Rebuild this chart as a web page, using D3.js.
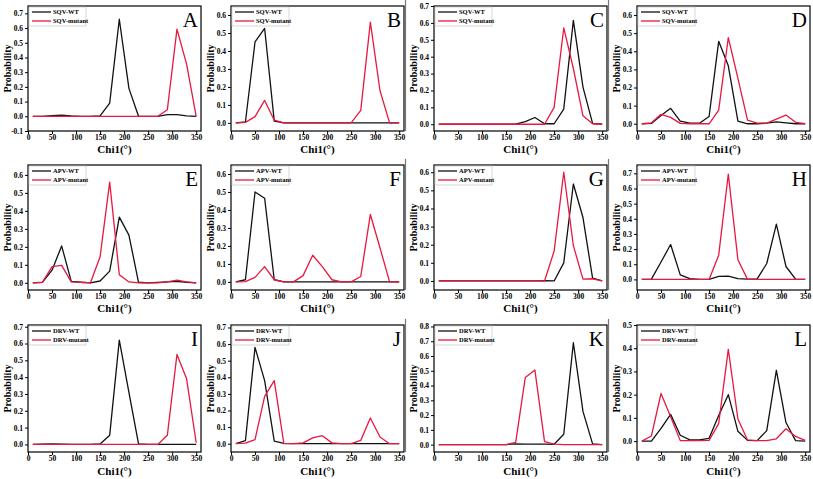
<!DOCTYPE html>
<html><head><meta charset="utf-8">
<script src="https://cdn.jsdelivr.net/npm/d3@7"></script>
<style>
body{margin:0;background:#fff}
svg{display:block}
text{font-family:"Liberation Serif","Times New Roman",serif}
</style>
</head><body>
<svg id="c" width="813" height="479"></svg>
<script>
// ---------- data ----------
const chi = [10,30,50,70,90,110,130,150,170,190,210,230,250,270,290,310,330,350];
const xTicks = [0,50,100,150,200,250,300,350];
const panelLetters = ["A","B","C","D","E","F","G","H","I","J","K","L"];
const wtLabels = ["SQV-WT","APV-WT","DRV-WT"];
const mutLabels = ["SQV-mutant","APV-mutant","DRV-mutant"];

const aWT  = [0,0,0.005,0.008,0.003,0,0,0.003,0.09,0.66,0.19,0,0,0,0.012,0.012,0.003,0];
const aMut = [0,0,0,0,0,0,0,0,0,0,0,0,0,0,0.045,0.593,0.355,0];
const bWT  = [0,0.005,0.45,0.525,0.01,0,0,0,0,0,0,0,0,0,0,0,0,0];
const bMut = [0,0.003,0.035,0.125,0.015,0,0,0,0,0,0,0,0,0.07,0.56,0.18,0,0];
const cWT  = [0,0,0,0,0,0,0,0,0,0.016,0.04,0.003,0.003,0.09,0.615,0.22,0.005,0];
const cMut = [0,0,0,0,0,0,0,0,0,0,0,0,0.1,0.57,0.33,0.05,0.003,0];
const dWT  = [0,0.002,0.045,0.085,0.015,0.003,0.003,0.04,0.455,0.32,0.015,0,0,0.003,0.01,0.005,0,0];
const dMut = [0,0.005,0.052,0.035,0.002,0,0,0,0.075,0.475,0.25,0.02,0.003,0.003,0.025,0.048,0.008,0];
const eWT  = [0,0.002,0.07,0.205,0.008,0.003,0,0.01,0.065,0.365,0.265,0.003,0,0.002,0.005,0.008,0.003,0];
const eMut = [0,0.003,0.09,0.097,0.005,0.003,0,0.145,0.56,0.045,0.005,0,0,0,0.005,0.015,0.005,0];
const fWT  = [0,0.012,0.5,0.465,0.012,0,0,0,0,0,0,0,0,0,0,0,0,0];
const fMut = [0,0.002,0.025,0.085,0.012,0,0,0.035,0.148,0.085,0.012,0,0,0.03,0.375,0.19,0,0];
const gWT  = [0,0,0,0,0,0,0,0,0,0,0,0.002,0,0.1,0.535,0.35,0.015,0];
const gMut = [0,0,0,0,0,0,0,0,0,0,0,0,0.165,0.6,0.195,0.01,0.012,0];
const hWT  = [0,0.002,0.115,0.23,0.03,0.005,0,0,0.02,0.022,0.005,0.002,0.003,0.105,0.365,0.085,0.002,0];
const hMut = [0,0,0,0,0,0,0,0,0.16,0.695,0.13,0,0,0,0,0,0,0];
const iWT  = [0,0.002,0.003,0.002,0,0,0,0.003,0.055,0.62,0.31,0.003,0,0,0,0,0,0];
const iMut = [0,0,0,0,0,0,0,0,0,0,0,0,0,0,0.055,0.535,0.39,0.01];
const jWT  = [0,0.018,0.58,0.38,0.015,0.002,0,0,0,0,0,0,0,0,0,0,0,0];
const jMut = [0,0.003,0.025,0.285,0.38,0,0,0.005,0.035,0.048,0.005,0,0,0.02,0.155,0.04,0,0];
const kWT  = [0,0,0,0,0,0,0,0,0.005,0.003,0.003,0.003,0.002,0.07,0.69,0.225,0.005,0];
const kMut = [0,0,0,0,0,0,0,0,0.015,0.455,0.505,0.02,0.003,0,0,0,0,0];
const lWT  = [0,0,0.055,0.115,0.025,0.005,0.005,0.012,0.11,0.2,0.042,0.003,0.002,0.045,0.305,0.08,0.002,0];
const lMut = [0,0.022,0.205,0.105,0.002,0.002,0.002,0.003,0.075,0.395,0.095,0.005,0.002,0.002,0.01,0.053,0.02,0.003];

const wtSeries  = [aWT,bWT,cWT,dWT,eWT,fWT,gWT,hWT,iWT,jWT,kWT,lWT];
const mutSeries = [aMut,bMut,cMut,dMut,eMut,fMut,gMut,hMut,iMut,jMut,kMut,lMut];
const yTickTop  = [0.7,0.6,0.7,0.6,0.6,0.6,0.6,0.7,0.7,0.7,0.8,0.5];
const yTickBottom = [-0.1,0,0,0,0,0,0,0,0,0,0,0];

// ---------- layout ----------
const yDomains = [[-0.1,0.75],[-0.045,0.65],[-0.04,0.7],[-0.04,0.65],
                  [-0.04,0.655],[-0.045,0.65],[-0.05,0.64],[-0.07,0.755],
                  [-0.045,0.71],[-0.05,0.715],[-0.05,0.81],[-0.047,0.5]];
const colLeft = [28,231,434,637];
const W = 173;
const rowTop = [6,165,325];
const rowBottom = [131,290,452];
const BLACK = "#111", RED = "#e8183f";

const svg = d3.select("#c");

for (let i = 0; i < 12; i++) {
  const r = Math.floor(i/4), c = i % 4;
  const L = colLeft[c], T = rowTop[r], B = rowBottom[r];
  const x = d3.scaleLinear().domain([0,360]).range([L, L+W]);
  const y = d3.scaleLinear().domain(yDomains[i]).range([B, T]);
  const g = svg.append("g");

  // separators at left of col 3 & 4
  if (c >= 2) {
    g.append("line").attr("x1", L-28.5).attr("x2", L-28.5).attr("y1", T-6).attr("y2", B)
      .attr("stroke", "#777").attr("stroke-width", 1.2);
  }

  // ticks
  const yt = d3.range(Math.round(yTickBottom[i]*10), Math.round(yTickTop[i]*10)+1).map(v => v/10);
  const ya = g.append("g").attr("transform", `translate(${L},0)`)
    .call(d3.axisLeft(y).tickValues(yt).tickSize(3).tickPadding(2).tickFormat(d => d.toFixed(1)));
  const xa = g.append("g").attr("transform", `translate(0,${B})`)
    .call(d3.axisBottom(x).tickValues(xTicks).tickSize(3).tickPadding(1).tickFormat(d => d));
  [ya, xa].forEach(a => {
    a.select(".domain").remove();
    a.selectAll("line").attr("stroke", "#000");
    a.selectAll("text").attr("font-family", "'Liberation Serif',serif")
      .attr("font-size", 7.5).attr("font-weight", "bold").attr("fill", "#000");
  });

  // lines
  const line = d3.line().x((d, k) => x(chi[k])).y(d => y(d));
  g.append("path").datum(wtSeries[i]).attr("d", line)
    .attr("fill", "none").attr("stroke", BLACK).attr("stroke-width", 1.3).attr("stroke-linejoin", "round");
  g.append("path").datum(mutSeries[i]).attr("d", line)
    .attr("fill", "none").attr("stroke", RED).attr("stroke-width", 1.3).attr("stroke-linejoin", "round");

  // frame
  g.append("rect").attr("x", L).attr("y", T).attr("width", W).attr("height", B-T)
    .attr("fill", "none").attr("stroke", "#000").attr("stroke-width", 1.2);

  // legend
  const lg = g.append("g").attr("transform", `translate(${L},${T})`);
  lg.append("rect").attr("x", 1).attr("y", 1).attr("width", 57).attr("height", 19)
    .attr("fill", "none").attr("stroke", "#bbb").attr("stroke-width", 0.6);
  [[wtLabels[r], BLACK, 6], [mutLabels[r], RED, 15]].forEach(([t, col, yy]) => {
    lg.append("line").attr("x1", 4).attr("x2", 23).attr("y1", yy).attr("y2", yy)
      .attr("stroke", col).attr("stroke-width", 1.3);
    lg.append("text").attr("x", 25).attr("y", yy + 2.3).attr("font-size", 6.5)
      .attr("font-weight", "bold").attr("fill", "#000").text(t);
  });

  // panel letter
  g.append("text").attr("x", L + W - 3).attr("y", T + 21).attr("text-anchor", "end")
    .attr("font-size", 21).attr("fill", "#000").text(panelLetters[i]);

  // axis titles
  g.append("text").attr("x", L + W/2).attr("y", B + (r === 2 ? 23 : 22)).attr("text-anchor", "middle")
    .attr("font-size", 11).attr("font-weight", "bold").attr("fill", "#000").text("Chi1(°)");
  g.append("text").attr("transform", `translate(${L-17},${(T+B)/2}) rotate(-90)`)
    .attr("text-anchor", "middle").attr("font-size", 10).attr("font-weight", "bold")
    .attr("fill", "#000").text("Probability");
}
</script>
</body></html>
